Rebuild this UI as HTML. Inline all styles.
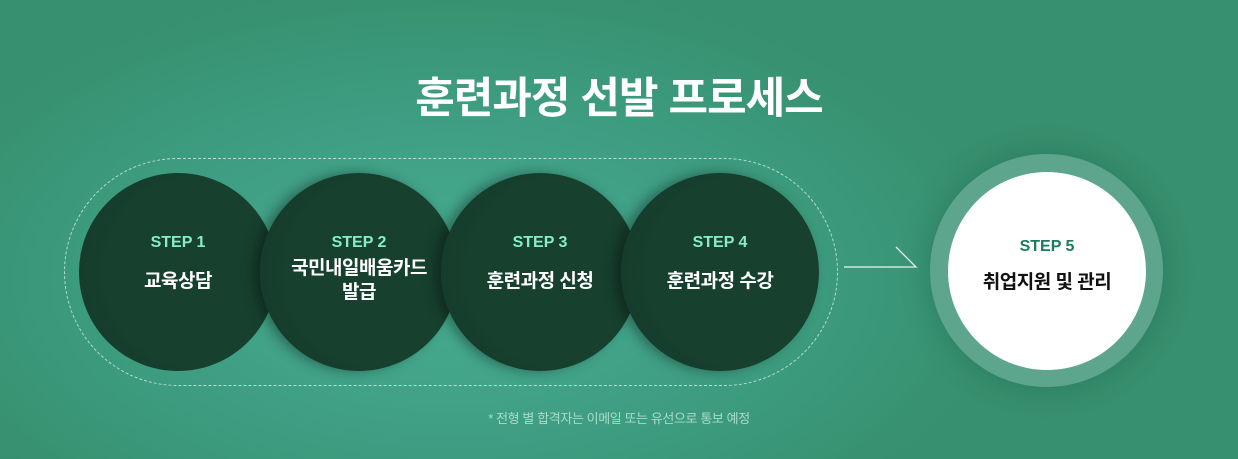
<!DOCTYPE html>
<html><head><meta charset="utf-8"><style>
*{margin:0;padding:0;box-sizing:border-box}
body{width:1238px;height:459px;overflow:hidden;position:relative;font-family:"Liberation Sans","Noto Sans CJK KR",sans-serif;
background:radial-gradient(ellipse 560px 300px at 450px 280px,#47ad92 0%,#3f9f84 50%,#37906f 100%);}
.t{position:absolute;left:0;width:1238px;top:64px;text-align:center;color:#fff;font-size:43px;font-weight:bold;letter-spacing:-1px}
.pill{position:absolute;left:64px;top:158px;width:774px;height:228px;border:1px dashed rgba(220,245,235,.75);border-radius:114px}
.c{position:absolute;width:198px;height:198px;border-radius:50%;top:173px;background:radial-gradient(circle at 60% 50%,#17402f 60%,#123627 100%);box-shadow:-6px 0 12px rgba(0,0,0,.35);text-align:center;color:#fff}
.c .s{position:absolute;top:61px;width:100%;font-size:16px;font-weight:bold;color:#86edc6}
.c .l{position:absolute;top:97px;width:100%;font-size:19px;font-weight:bold;line-height:24px;letter-spacing:-0.5px}
.ring{position:absolute;left:930px;top:154px;width:233px;height:233px;border-radius:50%;background:#5da58c;box-shadow:0 0 30px rgba(0,60,40,.25)}
.w{position:absolute;left:948px;top:172px;width:198px;height:198px;border-radius:50%;background:#fff;text-align:center}
.w .s{position:absolute;top:66px;width:100%;font-size:16px;font-weight:bold;color:#1e7a5a}
.w .l{position:absolute;top:95px;width:100%;font-size:19px;font-weight:bold;color:#111;letter-spacing:-0.5px}
.f{position:absolute;left:0;width:1238px;top:408px;text-align:center;font-size:13px;letter-spacing:-0.4px;color:#a9dcc9}
</style></head><body>
<div class="t">훈련과정 선발 프로세스</div>
<div class="pill"></div>
<div class="c" style="left:79px;box-shadow:none"><div class="s">STEP 1</div><div class="l">교육상담</div></div>
<div class="c" style="left:260px"><div class="s">STEP 2</div><div class="l" style="top:84px">국민내일배움카드<br>발급</div></div>
<div class="c" style="left:441px"><div class="s">STEP 3</div><div class="l">훈련과정 신청</div></div>
<div class="c" style="left:621px"><div class="s">STEP 4</div><div class="l">훈련과정 수강</div></div>
<svg style="position:absolute;left:0;top:0" width="1238" height="459"><path d="M844 267H916L896 247" fill="none" stroke="#e8f7f0" stroke-width="1.3"/></svg>
<div class="ring"></div>
<div class="w"><div class="s">STEP 5</div><div class="l">취업지원 및 관리</div></div>
<div class="f">* 전형 별 합격자는 이메일 또는 유선으로 통보 예정</div>
</body></html>
